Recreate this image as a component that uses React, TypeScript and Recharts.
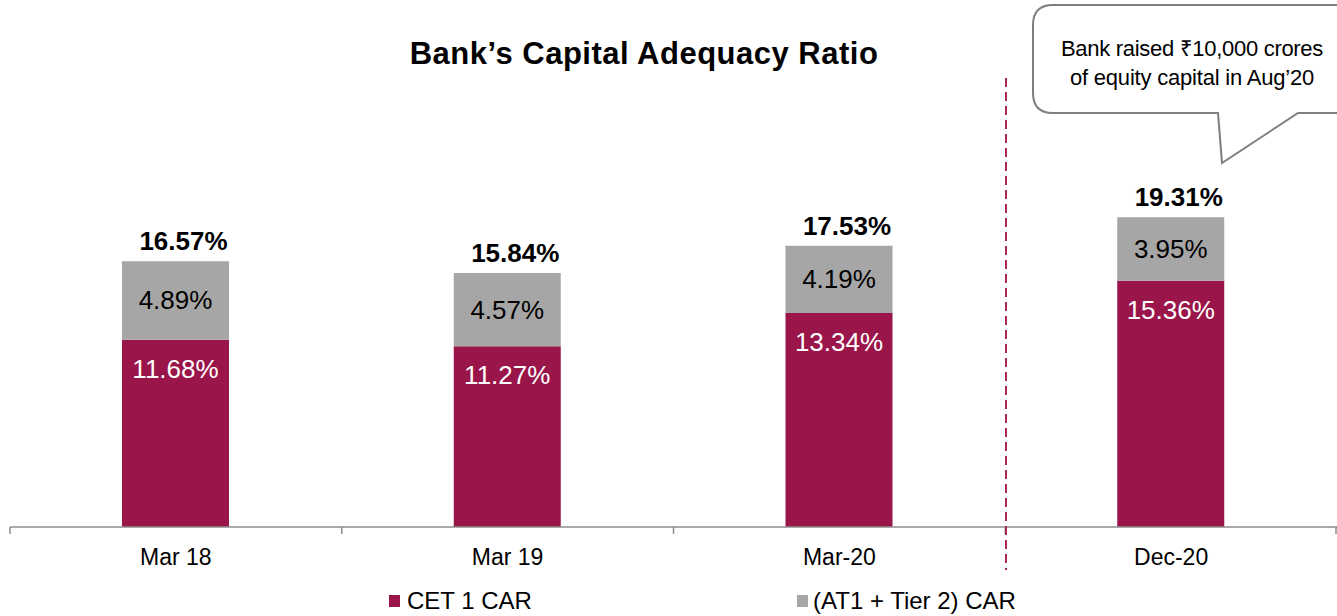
import React from 'react';
import { BarChart, Bar, XAxis, YAxis, LabelList } from 'recharts';

const categories = ['Mar 18', 'Mar 19', 'Mar-20', 'Dec-20'];
const cet1 = [11.68, 11.27, 13.34, 15.36];
const at1Tier2 = [4.89, 4.57, 4.19, 3.95];
const totals = [16.57, 15.84, 17.53, 19.31];

const data = categories.map((c, i) => ({ name: c, cet1: cet1[i], at1: at1Tier2[i], total: totals[i] }));

const W = 1337;
const H = 616;
const M = { top: 126, right: 0, left: 10, bottom: 59 };
const XAXIS_H = 30;
const AXIS_Y = H - M.bottom - XAXIS_H;
const BAND = (W - M.left - M.right) / categories.length;
const FONT = '"Liberation Sans", Arial, sans-serif';
const CET_COLOR = '#9A1549';
const GRAY = '#A6A6A6';
const fmt = (v: number) => v.toFixed(2) + '%';

const Tick = (props: any) => {
  const { x, payload, index } = props;
  const half = BAND / 2;
  return (
    <g>
      <line x1={x - half} x2={x - half} y1={AXIS_Y} y2={AXIS_Y + 7} stroke="#8C8C8C" strokeWidth={1.5} />
      {index === categories.length - 1 && (
        <line x1={x + half - 1} x2={x + half - 1} y1={AXIS_Y} y2={AXIS_Y + 7} stroke="#8C8C8C" strokeWidth={1.5} />
      )}
      <text x={x} y={AXIS_Y + 38} textAnchor="middle" fontSize={23} fontFamily={FONT} fill="#000">
        {payload.value}
      </text>
    </g>
  );
};

const CetLabel = (props: any) => {
  const { x, y, width, value } = props;
  return (
    <text x={x + width / 2} y={y + 38} textAnchor="middle" fontSize={26} fontFamily={FONT} fill="#fff">
      {fmt(value)}
    </text>
  );
};

const GrayLabel = (props: any) => {
  const { x, y, width, height, value } = props;
  return (
    <text x={x + width / 2} y={y + height / 2 + 9} textAnchor="middle" fontSize={26} fontFamily={FONT} fill="#000">
      {fmt(value)}
    </text>
  );
};

const TotalLabel = (props: any) => {
  const { x, y, width, index } = props;
  return (
    <text x={x + width / 2 + 8} y={y - 11} textAnchor="middle" fontSize={26} fontWeight="bold" fontFamily={FONT} fill="#000">
      {fmt(totals[index])}
    </text>
  );
};

export default function App() {
  return (
    <div style={{ position: 'absolute', left: 0, top: 0, width: W, height: H, background: '#fff' }}>
      <BarChart width={W} height={H} data={data} margin={M}>
        <XAxis
          dataKey="name"
          height={XAXIS_H}
          axisLine={{ stroke: '#8C8C8C', strokeWidth: 1.5 }}
          tickLine={false}
          tick={<Tick />}
          interval={0}
        />
        <YAxis hide domain={[0, 25]} />
        <Bar dataKey="cet1" stackId="a" fill={CET_COLOR} barSize={107} isAnimationActive={false}>
          <LabelList dataKey="cet1" content={<CetLabel />} />
        </Bar>
        <Bar dataKey="at1" stackId="a" fill={GRAY} barSize={107} isAnimationActive={false}>
          <LabelList dataKey="at1" content={<GrayLabel />} />
          <LabelList dataKey="total" content={<TotalLabel />} />
        </Bar>
      </BarChart>
      <svg width={W} height={H} style={{ position: 'absolute', left: 0, top: 0, pointerEvents: 'none' }}>
        <text x={644} y={64} textAnchor="middle" fontSize={31} letterSpacing={0.5} fontWeight="bold" fontFamily={FONT} fill="#000">
          Bank’s Capital Adequacy Ratio
        </text>
        <line x1={1006} x2={1006} y1={78} y2={570} stroke="#A8285C" strokeWidth={2} strokeDasharray="9 5" />
        <path
          d="M 1053 5 H 1350 V 113 H 1298 L 1222 163 L 1218 113 H 1053 Q 1033 113 1033 93 V 25 Q 1033 5 1053 5 Z"
          fill="#fff"
          stroke="#7F7F7F"
          strokeWidth={2}
        />
        <text x={1192} y={56} textAnchor="middle" fontSize={22} letterSpacing={-0.3} fontFamily={FONT} fill="#000">
          Bank raised ₹10,000 crores
        </text>
        <text x={1192} y={85} textAnchor="middle" fontSize={22} letterSpacing={-0.2} fontFamily={FONT} fill="#000">
          of equity capital in Aug’20
        </text>
        <rect x={389} y={595} width={11} height={12} fill={CET_COLOR} />
        <text x={407} y={609} fontSize={24} fontFamily={FONT} fill="#000">CET 1 CAR</text>
        <rect x={797} y={595} width={11} height={12} fill={GRAY} />
        <text x={813} y={609} fontSize={24} fontFamily={FONT} fill="#000">(AT1 + Tier 2) CAR</text>
      </svg>
    </div>
  );
}
